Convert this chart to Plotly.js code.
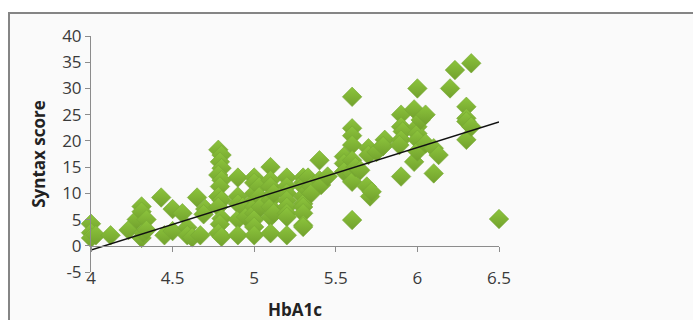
<!DOCTYPE html>
<html>
<head>
<meta charset="utf-8">
<script src="https://cdn.plot.ly/plotly-3.0.1.min.js"></script>
<style>
  html, body { margin: 0; padding: 0; background: #ffffff; width: 693px; height: 320px; overflow: hidden; }
  #frame { position: absolute; left: 8px; top: 12px; width: 700px; height: 330px;
           border-top: 2px solid #858585; border-left: 2px solid #858585; background: #fafafa; }
  #chart { position: absolute; left: 0; top: 0; width: 683px; height: 320px; }
</style>
</head>
<body>
<div id="frame"><div id="chart"></div></div>
<script>
// HbA1c values (x) and Syntax score values (y)
const hba1c = [
  4.0, 4.0, 4.0, 4.03, 4.12, 4.23, 4.28, 4.31, 4.31, 4.31, 4.32, 4.34, 4.34,
  4.43, 4.45, 4.5, 4.5, 4.56, 4.59, 4.59, 4.62, 4.65, 4.67, 4.7, 4.69,
  4.78, 4.8, 4.79, 4.8, 4.78, 4.8, 4.79, 4.78, 4.8, 4.78, 4.8, 4.79, 4.78, 4.8,
  4.9, 4.9, 4.9, 4.9, 4.9, 4.93, 4.95,
  5.0, 5.0, 5.0, 5.0, 5.0, 5.0, 5.0, 5.0, 5.0, 5.03, 5.03, 5.04,
  5.1, 5.1, 5.1, 5.1, 5.1, 5.1, 5.1, 5.12, 5.12,
  5.2, 5.2, 5.2, 5.2, 5.2, 5.2, 5.2, 5.2,
  5.3, 5.3, 5.3, 5.3, 5.3, 5.3, 5.3, 5.3, 5.3, 5.33, 5.33, 5.35, 5.35,
  5.4, 5.4, 5.41, 5.45,
  5.55, 5.55, 5.55,
  5.6, 5.6, 5.6, 5.6, 5.6, 5.6, 5.6, 5.6, 5.62, 5.65,
  5.7, 5.7, 5.69, 5.71, 5.72, 5.75,
  5.8, 5.79,
  5.9, 5.9, 5.91, 5.9, 5.89, 5.9,
  5.98, 5.98,
  6.0, 6.0, 6.0, 6.0, 6.0, 6.02, 6.05, 6.05,
  6.1, 6.1, 6.13,
  6.2, 6.23,
  6.3, 6.3, 6.3, 6.3, 6.33, 6.33,
  6.5
];
const syntaxScore = [
  4.2, 2.5, 1.5, 2.0, 2.0, 3.0, 5.0, 7.5, 6.5, 1.5, 2.5, 5.0, 3.0,
  9.2, 2.0, 7.0, 2.8, 6.2, 3.5, 2.0, 1.6, 9.2, 2.0, 7.0, 6.0,
  18.3, 17.3, 16.0, 14.8, 13.5, 12.5, 11.3, 9.4, 8.7, 7.4, 5.2, 4.1, 2.4, 1.7,
  13.0, 9.4, 8.0, 5.0, 2.0, 7.4, 5.5,
  13.0, 12.0, 10.0, 8.7, 7.4, 6.2, 5.0, 3.6, 2.0, 11.3, 9.4, 7.4,
  15.0, 12.5, 11.3, 8.7, 7.4, 5.5, 2.4, 10.0, 6.2,
  13.0, 11.3, 10.0, 8.7, 7.4, 6.2, 5.5, 2.0,
  13.0, 12.0, 11.3, 9.4, 8.0, 7.4, 6.2, 3.9, 3.6, 13.0, 10.6, 11.3, 10.0,
  16.3, 12.5, 11.6, 13.2,
  17.0, 15.7, 14.1,
  28.4, 22.4, 21.0, 19.2, 16.3, 13.8, 12.2, 4.9, 15.0, 14.4,
  18.6, 17.3, 11.3, 9.4, 10.3, 17.9,
  20.2, 19.0,
  25.0, 22.7, 21.8, 20.2, 19.2, 13.2,
  26.0, 16.0,
  30.0, 22.7, 21.4, 20.2, 18.0, 24.0, 25.0, 19.5,
  18.6, 13.8, 17.3,
  30.0, 33.5,
  26.5, 24.3, 23.7, 20.2, 34.8, 22.7,
  5.1
];
// Linear trend line end points as drawn in the reference
const trendX = [4.0, 6.5];
const trendY = [-0.8, 23.6];
// Axis tick values and labels
const xTicks = [4, 4.5, 5, 5.5, 6, 6.5];
const xTickText = ['4', '4.5', '5', '5.5', '6', '6.5'];
const yTicks = [-5, 0, 5, 10, 15, 20, 25, 30, 35, 40];
const yTickText = ['-5', '0', '5', '10', '15', '20', '25', '30', '35', '40'];

const fontFam = '"Open Sans", "DejaVu Sans", sans-serif';

const traces = [
  {
    type: 'scatter', mode: 'markers', x: hba1c, y: syntaxScore,
    xaxis: 'x', yaxis: 'y', cliponaxis: false,
    marker: {
      symbol: 'diamond', size: 15, color: '#8cc43c',
      gradient: { type: 'vertical', color: '#72a12d' },
      line: { color: '#76a733', width: 0.6 }
    },
    hoverinfo: 'x+y', showlegend: false
  },
  {
    type: 'scatter', mode: 'lines', x: trendX, y: trendY,
    xaxis: 'x2', yaxis: 'y', cliponaxis: false,
    line: { color: '#111111', width: 1.4 },
    hoverinfo: 'skip', showlegend: false
  }
];

const layout = {
  width: 683, height: 320,
  margin: { l: 81, r: 194, t: 22, b: 62 },
  paper_bgcolor: '#fafafa', plot_bgcolor: '#fafafa',
  font: { family: fontFam, size: 17, color: '#3a3a3a' },
  showlegend: false,
  xaxis: {
    range: [4, 6.5], tickvals: xTicks, ticktext: xTickText,
    showline: false, showgrid: false, zeroline: false, ticks: '',
    ticklabelstandoff: -6,
    tickfont: { family: fontFam, size: 17, color: '#3a3a3a' },
    title: { text: '<b>HbA1c</b>', font: { family: fontFam, size: 17, color: '#222' }, standoff: 16 },
    automargin: false,
    fixedrange: true
  },
  xaxis2: {
    range: [4, 6.5], overlaying: 'x', anchor: 'free', position: 5 / 45,
    tickvals: xTicks, showticklabels: false,
    showline: true, linecolor: '#8c8c8c', linewidth: 1,
    ticks: 'outside', ticklen: 5, tickcolor: '#8c8c8c',
    showgrid: false, zeroline: false, fixedrange: true
  },
  yaxis: {
    range: [-5, 40], tickvals: yTicks, ticktext: yTickText,
    showline: true, linecolor: '#8c8c8c', linewidth: 1,
    ticks: 'outside', ticklen: 5, tickcolor: '#8c8c8c',
    showgrid: false, zeroline: false,
    tickfont: { family: fontFam, size: 17, color: '#3a3a3a' },
    title: { text: '<b>Syntax score</b>', font: { family: fontFam, size: 17, color: '#222' }, standoff: 12 },
    automargin: false,
    fixedrange: true
  }
};

Plotly.newPlot('chart', traces, layout, { displayModeBar: false, staticPlot: true });
</script>
</body>
</html>
